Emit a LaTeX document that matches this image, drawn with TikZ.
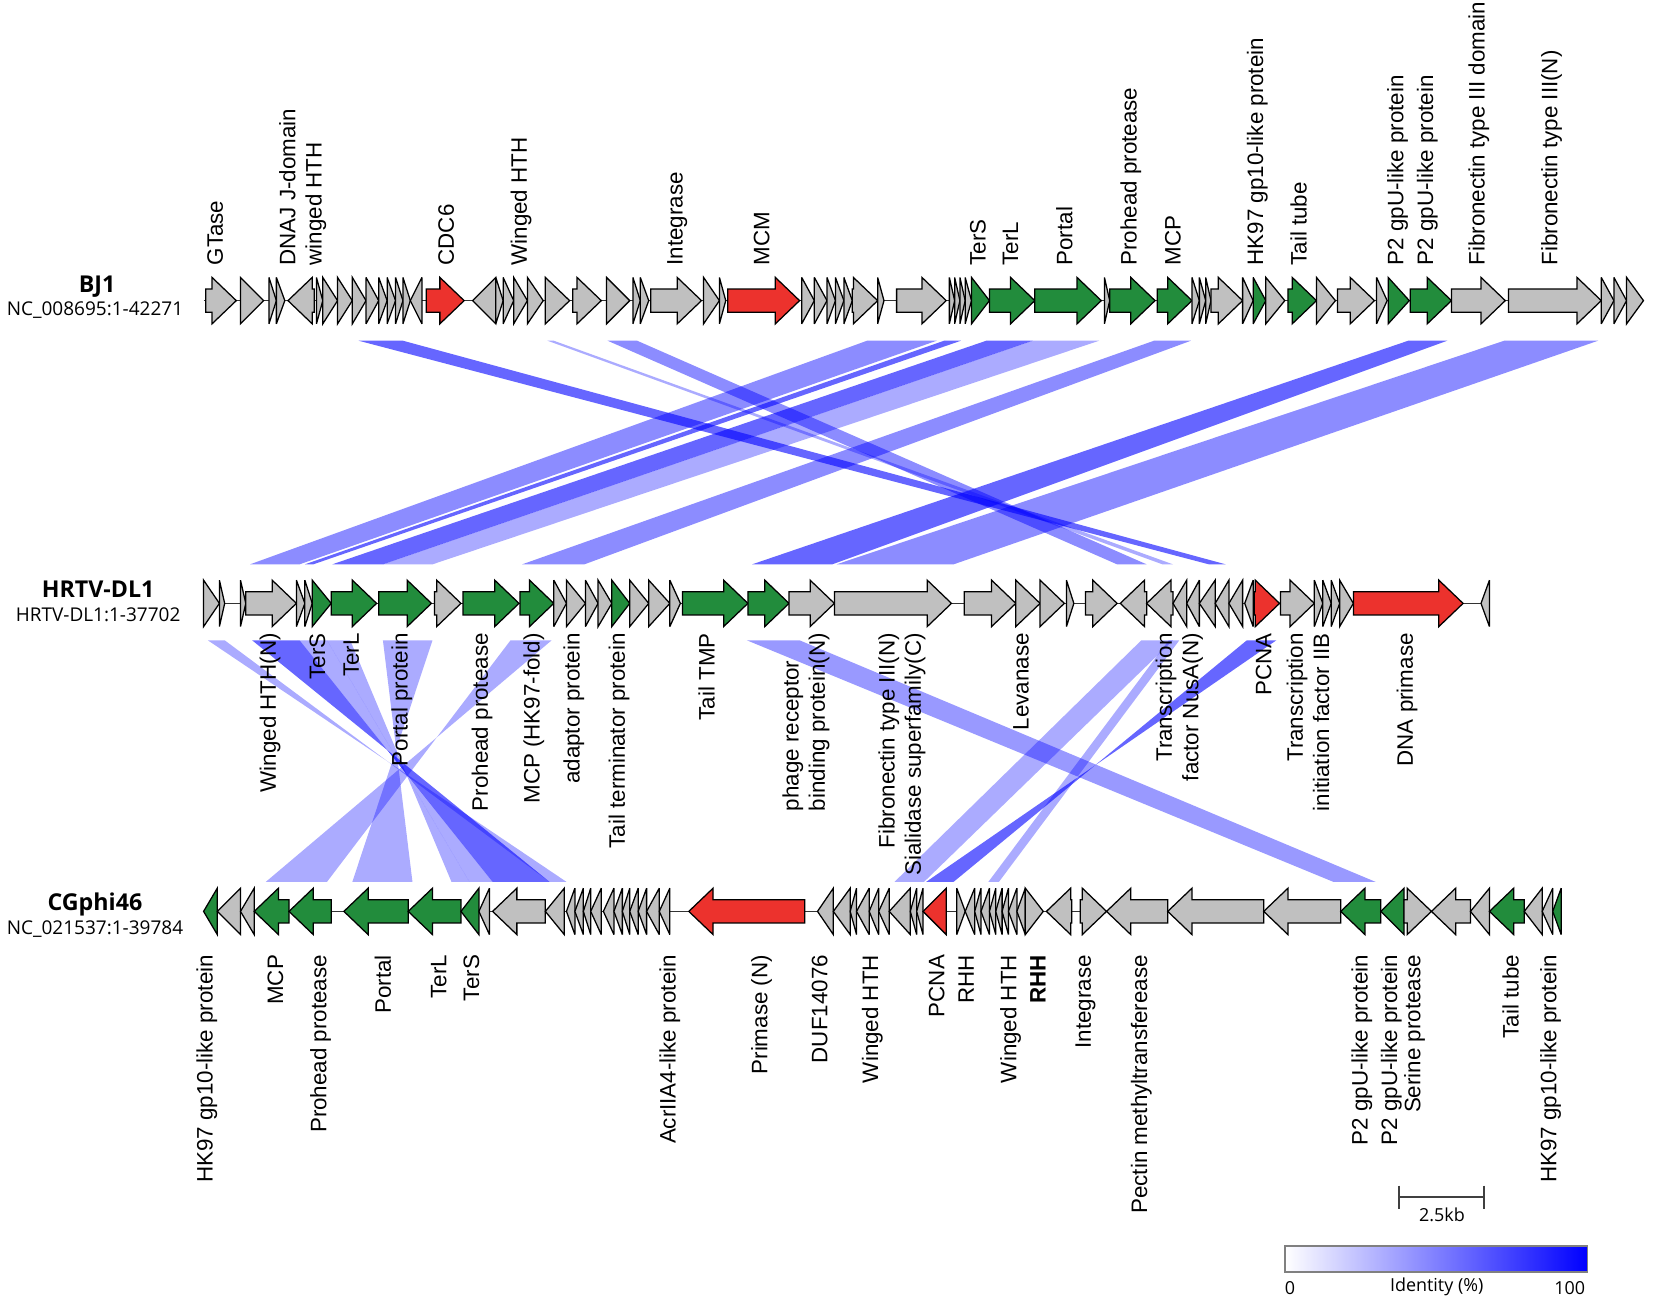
\documentclass[tikz,border=0pt]{standalone}
\usepackage{fontspec}
\setmainfont{Liberation Sans}
\newfontfamily\namefont{Open Sans}
\definecolor{gy}{RGB}{192,192,192}
\definecolor{gn}{RGB}{34,140,60}
\definecolor{rd}{RGB}{236,50,45}
\definecolor{idblue}{RGB}{0,0,255}
\newcommand{\genearrow}[5]{%
  \pgfmathsetmacro{\ghl}{min(#3-#2,23)}%
  \pgfmathsetmacro{\gyt}{#1-11}\pgfmathsetmacro{\gyb}{#1+11}%
  \pgfmathsetmacro{\gyT}{#1-22}\pgfmathsetmacro{\gyB}{#1+22}%
  \ifnum#4=1
    \pgfmathsetmacro{\gm}{#3-\ghl}%
    \filldraw[genebox,fill=#5] (#2,\gyt) -- (\gm,\gyt) -- (\gm,\gyT) -- (#3,#1) -- (\gm,\gyB) -- (\gm,\gyb) -- (#2,\gyb) -- cycle;
  \else
    \pgfmathsetmacro{\gm}{#2+\ghl}%
    \filldraw[genebox,fill=#5] (#3,\gyt) -- (\gm,\gyt) -- (\gm,\gyT) -- (#2,#1) -- (\gm,\gyB) -- (\gm,\gyb) -- (#3,\gyb) -- cycle;
  \fi}
\begin{document}
\begin{tikzpicture}[x=0.5pt,y=-0.5pt,
  genebox/.style={draw=black,line width=0.6pt,line join=miter,miter limit=4},
  backbone/.style={draw=black!80,line width=0.6pt},
  bandL/.style={fill=idblue,fill opacity=0.33},
  bandM/.style={fill=idblue,fill opacity=0.45},
  bandD/.style={fill=idblue,fill opacity=0.6},
  lab/.style={rotate=90,inner sep=0pt,font=\fontsize{10.6}{12.5}\selectfont},
  toplab/.style={lab,anchor=west,align=left},
  botlab/.style={lab,anchor=east,align=right},
  botlabL/.style={lab,anchor=east,align=left},
  gname/.style={inner sep=0pt,font=\namefont\bfseries\fontsize{11}{13}\selectfont},
  gsub/.style={inner sep=0pt,font=\namefont\fontsize{9}{11}\selectfont},
  legtxt/.style={inner sep=0pt,font=\namefont\fontsize{8.5}{10}\selectfont}]
\useasboundingbox (0,0) rectangle (1568,1235);

% ---------- bands BJ1 -> HRTV-DL1 ----------
\fill[bandD] (340,323) -- (382,323) -- (1162,535) -- (1146,535) -- cycle;
\fill[bandL] (519,323) -- (525,323) -- (1112,535) -- (1102,535) -- cycle;
\fill[bandM] (576,323) -- (604,323) -- (1087,535) -- (1059,535) -- cycle;
\fill[bandM] (822,323) -- (888,323) -- (284,535) -- (237,535) -- cycle;
\fill[bandD] (895,323) -- (911,323) -- (297,535) -- (289,535) -- cycle;
\fill[bandD] (935,323) -- (979,323) -- (363,535) -- (315,535) -- cycle;
\fill[bandL] (979,323) -- (1042,323) -- (410,535) -- (363,535) -- cycle;
\fill[bandM] (1094,323) -- (1129,323) -- (554,535) -- (495,535) -- cycle;
\fill[bandD] (1335,323) -- (1372,323) -- (789,535) -- (713,535) -- cycle;
\fill[bandM] (1426,323) -- (1515,323) -- (904,535) -- (793,535) -- cycle;

% ---------- bands HRTV-DL1 -> CGphi46 ----------
\fill[bandL] (197,607) -- (213,607) -- (521,836) -- (537,836) -- cycle;
\fill[bandD] (239,607) -- (284,607) -- (467,836) -- (521,836) -- cycle;
\fill[bandL] (284,607) -- (310,607) -- (445,836) -- (467,836) -- cycle;
\fill[bandL] (310,607) -- (332,607) -- (428,836) -- (445,836) -- cycle;
\fill[bandL] (363,607) -- (410,607) -- (334,836) -- (391,836) -- cycle;
\fill[bandL] (484,607) -- (523,607) -- (252,836) -- (310,836) -- cycle;
\fill[bandL,fill opacity=0.4] (708,607) -- (758,607) -- (1304,836) -- (1264,836) -- cycle;
\fill[bandL] (1082,607) -- (1112,607) -- (876,836) -- (848,836) -- cycle;
\fill[bandL] (1108,607) -- (1118,607) -- (947,836) -- (937,836) -- cycle;
\fill[bandD] (1182,607) -- (1210,607) -- (878,836) -- (904,836) -- cycle;

% ---------- track BJ1 ----------
\node[gname] (nbj) at (92,272) {BJ1};
\node[gsub] (sbj) at (90,294) {NC\_008695:1-42271};
\draw[backbone] (193,285) -- (1558,285);
\foreach \ga/\gb/\gd/\gc in {195/224/1/gy,228/250/1/gy,255/262/1/gy,262/270/1/gy,273/298/-1/gy,
 300/306/1/gy,306/320/1/gy,320/334/1/gy,334/347/1/gy,347/359/1/gy,359/367/1/gy,367/375/1/gy,
 375/382/1/gy,382/389/1/gy,389/400/-1/gy,404/440/1/rd,448/470/-1/gy,470/477/1/gy,477/487/1/gy,
 487/500/1/gy,500/515/1/gy,517/540/1/gy,543/570/1/gy,575/597/1/gy,600/607/1/gy,607/615/1/gy,
 617/665/1/gy,667/682/1/gy,682/688/1/gy,690/758/1/rd,760/772/1/gy,772/784/1/gy,784/792/1/gy,
 792/800/1/gy,800/808/1/gy,808/832/1/gy,832/838/1/gy,850/897/1/gy,900/905/1/gy,905/910/1/gy,
 910/915/1/gy,915/921/1/gy,921/938/1/gn,938/981/1/gn,981/1044/1/gn,1047/1052/1/gy,1052/1095/1/gn,
 1097/1130/1/gn,1130/1137/1/gy,1137/1143/1/gy,1143/1148/1/gy,1148/1178/1/gy,1178/1188/1/gy,
 1188/1200/1/gn,1200/1218/1/gy,1221/1248/1/gn,1248/1266/1/gy,1268/1303/1/gy,1305/1315/1/gy,
 1316/1336/1/gn,1337/1376/1/gn,1376/1427/1/gy,1430/1518/1/gy,1518/1530/1/gy,1530/1542/1/gy,
 1542/1558/1/gy}
 {\genearrow{285}{\ga}{\gb}{\gd}{\gc}}

\node[toplab] (b1) at (204,252) {GTase};
\node[toplab] (b2) at (287,252) {DNAJ J-domain\\winged HTH};
\node[toplab] (b3) at (423,252) {CDC6};
\node[toplab] (b4) at (494,252) {Winged HTH};
\node[toplab] (b5) at (642,252) {Integrase};
\node[toplab] (b6) at (722,252) {MCM};
\node[toplab] (b7) at (927,252) {TerS};
\node[toplab] (b8) at (958,252) {TerL};
\node[toplab] (b9) at (1009,252) {Portal};
\node[toplab] (b10) at (1072,252) {Prohead protease};
\node[toplab] (b11) at (1112,252) {MCP};
\node[toplab] (b12) at (1192,252) {HK97 gp10-like protein};
\node[toplab] (b13) at (1231,252) {Tail tube};
\node[toplab] (b14) at (1325,252) {P2 gpU-like protein};
\node[toplab] (b15) at (1353,252) {P2 gpU-like protein};
\node[toplab] (b16) at (1402,252) {Fibronectin type III domain};
\node[toplab] (b17) at (1471,252) {Fibronectin type III(N)};

% ---------- track HRTV-DL1 ----------
\node[gname] (nhr) at (93,559) {HRTV-DL1};
\node[gsub] (shr) at (93,583) {HRTV-DL1:1-37702};
\draw[backbone] (193,572) -- (1412,572);
\foreach \ga/\gb/\gd/\gc in {193/208/1/gy,208/213/1/gy,228/233/1/gy,233/281/1/gy,281/289/1/gy,
 289/296/1/gy,296/314/1/gn,314/357/1/gn,359/409/1/gn,412/437/1/gy,439/492/1/gn,493/525/1/gn,
 525/537/1/gy,537/555/1/gy,555/567/1/gy,567/580/1/gy,580/597/1/gn,597/615/1/gy,615/635/1/gy,
 635/645/1/gy,647/709/1/gn,709/748/1/gn,748/791/1/gy,791/902/1/gy,914/963/1/gy,963/986/1/gy,
 986/1009/1/gy,1011/1018/1/gy,1029/1059/1/gy,1062/1087/-1/gy,1087/1112/-1/gy,1112/1125/-1/gy,
 1125/1137/-1/gy,1137/1152/-1/gy,1152/1165/-1/gy,1165/1178/-1/gy,1180/1188/-1/gy,1189/1213/1/rd,
 1214/1246/1/gy,1246/1254/1/gy,1254/1262/1/gy,1262/1270/1/gy,1270/1283/1/gy,1283/1387/1/rd,
 1404/1412/-1/gy}
 {\genearrow{572}{\ga}{\gb}{\gd}{\gc}}

\node[botlab] (h1) at (256,600) {Winged HTH(N)};
\node[botlab] (h2) at (301,600) {TerS};
\node[botlab] (h3) at (333,600) {TerL};
\node[botlab] (h4) at (381,600) {Portal protein};
\node[botlab] (h5) at (457,600) {Prohead protease};
\node[botlab] (h6) at (506,600) {MCP (HK97-fold)};
\node[botlab] (h7) at (544,600) {adaptor protein};
\node[botlab] (h8) at (587,600) {Tail terminator protein};
\node[botlab] (h9) at (670,600) {Tail TMP};
\node[botlabL] (h10) at (764,600) {phage receptor\\binding protein(N)};
\node[botlab] (h11) at (855,600) {Fibronectin type III(N)\\Sialidase superfamily(C)};
\node[botlab] (h12) at (968,600) {Levanase};
\node[botlab] (h13) at (1118,600) {Transcription\\factor NusA(N)};
\node[botlab] (h14) at (1198,600) {PCNA};
\node[botlab] (h15) at (1240,600) {Transcription\\initiation factor IIB};
\node[botlab] (h16) at (1334,600) {DNA primase};

% ---------- track CGphi46 ----------
\node[gname] (ncg) at (90,857) {CGphi46};
\node[gsub] (scg) at (90,881) {NC\_021537:1-39784};
\draw[backbone] (193,864) -- (1480,864);
\foreach \ga/\gb/\gd/\gc in {193/206/-1/gn,206/228/-1/gy,228/241/-1/gy,241/274/-1/gn,274/314/-1/gn,
 326/387/-1/gn,387/437/-1/gn,437/454/-1/gn,454/464/-1/gy,467/517/-1/gy,517/535/-1/gy,
 537/545/-1/gy,545/553/-1/gy,553/560/-1/gy,560/570/-1/gy,572/582/-1/gy,582/590/-1/gy,
 590/597/-1/gy,597/605/-1/gy,605/613/-1/gy,613/625/-1/gy,625/635/-1/gy,653/763/-1/rd,
 775/790/-1/gy,790/806/-1/gy,806/812/-1/gy,812/824/-1/gy,824/833/-1/gy,833/843/-1/gy,
 843/863/-1/gy,863/869/-1/gy,869/875/-1/gy,875/897/-1/rd,907/915/1/gy,915/924/-1/gy,
 924/930/-1/gy,930/938/-1/gy,938/944/-1/gy,944/950/-1/gy,950/956/-1/gy,956/964/-1/gy,
 964/972/-1/gy,972/989/1/gy,992/1016/-1/gy,1024/1049/1/gy,1049/1107/-1/gy,1107/1198/-1/gy,
 1198/1271/-1/gy,1271/1309/-1/gn,1309/1331/-1/gn,1331/1357/1/gy,1357/1394/-1/gy,
 1394/1412/-1/gy,1412/1445/-1/gn,1445/1462/-1/gy,1462/1472/-1/gy,1472/1480/-1/gn}
 {\genearrow{864}{\ga}{\gb}{\gd}{\gc}}

\node[botlab] (c1) at (196,905) {HK97 gp10-like protein};
\node[botlab] (c2) at (261,905) {MCP};
\node[botlab] (c3) at (304,905) {Prohead protease};
\node[botlab] (c4) at (363,905) {Portal};
\node[botlab] (c5) at (416,905) {TerL};
\node[botlab] (c6) at (447,905) {TerS};
\node[botlab] (c7) at (635,905) {AcrIIA4-like protein};
\node[botlab] (c8) at (722,905) {Primase (N)};
\node[botlab] (c9) at (777,905) {DUF14076};
\node[botlab] (c10) at (827,905) {Winged HTH};
\node[botlab] (c11) at (888,905) {PCNA};
\node[botlab] (c12) at (916,905) {RHH};
\node[botlab] (c13) at (958,905) {Winged HTH};
\node[botlab,font=\bfseries\fontsize{10.6}{12.5}\selectfont] (c14) at (984,905) {RHH};
\node[botlab] (c15) at (1029,905) {Integrase};
\node[botlab] (c16) at (1082,905) {Pectin methyltransferease};
\node[botlab] (c17) at (1291,905) {P2 gpU-like protein};
\node[botlab] (c18) at (1319,905) {P2 gpU-like protein};
\node[botlab] (c19) at (1341,905) {Serine protease};
\node[botlab] (c20) at (1432,905) {Tail tube};
\node[botlab] (c21) at (1470,905) {HK97 gp10-like protein};

% ---------- scale bar ----------
\coordinate (sbl) at (1326,1135);
\coordinate (sbr) at (1407,1135);
\draw[black!75,line width=1pt] (sbl) -- (sbr);
\draw[black!75,line width=1pt] (1326,1124) -- (1326,1146);
\draw[black!75,line width=1pt] (1407,1124) -- (1407,1146);
\node[legtxt] (sbt) at (1367,1152) {2.5kb};

% ---------- identity legend ----------
\shade[left color=white,right color=idblue] (1218,1181) rectangle (1505,1206);
\draw[gray,line width=0.8pt] (1218,1181) rectangle (1505,1206);
\node[legtxt] (l0) at (1223,1221) {0};
\node[legtxt] (lid) at (1362,1220) {Identity (\%)};
\node[legtxt] (l100) at (1488,1221) {100};
\end{tikzpicture}
\end{document}
